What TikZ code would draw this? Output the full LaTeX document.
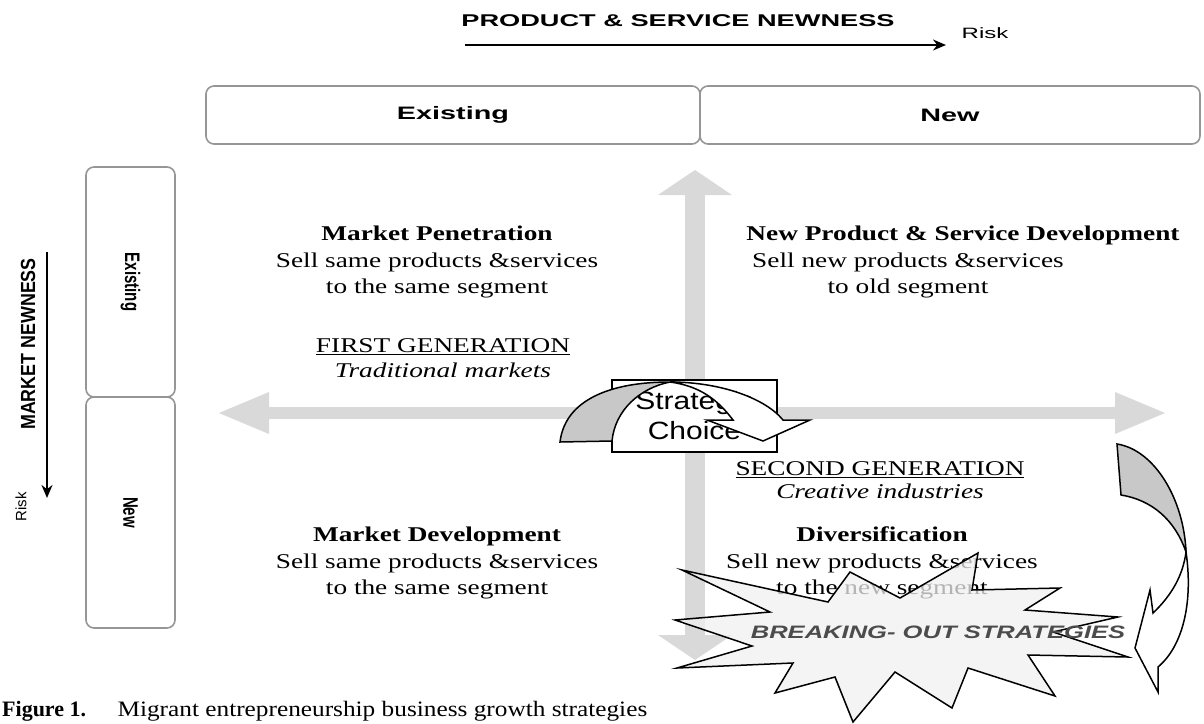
\documentclass[tikz,border=0pt]{standalone}
\usepackage{fontspec}
\setmainfont{Liberation Serif}
\setsansfont{Liberation Sans}
\usetikzlibrary{arrows.meta}

\definecolor{crossgray}{RGB}{217,217,217}
\definecolor{boxgray}{RGB}{150,150,150}
\definecolor{ribbongray}{RGB}{200,200,200}
\definecolor{stargray}{RGB}{240,240,240}

\newcommand{\widen}[2]{\scalebox{#1}[1]{#2}}
\newcommand{\quadlines}[1]{\scalebox{1.3}[1]{\begin{tabular}{@{}c@{}}#1\end{tabular}}}

\tikzset{
  labelbox/.style={draw=boxgray, line width=1.6pt, rounded corners=8pt, fill=white, inner sep=0pt,
    font=\sffamily\bfseries\fontsize{18}{20}\selectfont},
  sidefont/.style={font=\sffamily\bfseries\fontsize{15}{17}\selectfont},
  axisfont/.style={font=\sffamily\bfseries\fontsize{17}{20}\selectfont},
  riskfont/.style={font=\sffamily\fontsize{15}{17}\selectfont},
  quadtext/.style={inner sep=0pt, font=\fontsize{21}{26.5}\selectfont},
  riskarrow/.style={line width=2.5pt, -{Stealth[length=13pt,width=11pt]}},
  crossarrow/.style={draw=crossgray},
  ribbonback/.style={fill=ribbongray, draw=black, line width=1.5pt},
  ribbonfront/.style={fill=white, draw=black, line width=1.5pt},
  starburst/.style={fill=stargray, fill opacity=0.75, draw=black, line width=1.5pt}
}

\begin{document}
\begin{tikzpicture}[x=1pt,y=-1pt]
\useasboundingbox (0,0) rectangle (1204,723);

% grey cross
\coordinate (crossW) at (219,413);
\coordinate (crossE) at (1165,413);
\coordinate (crossN) at (695,170);
\coordinate (crossS) at (695,660);
\draw[crossarrow, line width=12pt, {Triangle[length=50pt,width=42pt,line width=0pt]}-{Triangle[length=50pt,width=42pt,line width=0pt]}] (crossW) -- (crossE);
\draw[crossarrow, line width=20pt, {Triangle[length=25pt,width=74pt,line width=0pt]}-{Triangle[length=25pt,width=74pt,line width=0pt]}] (crossN) -- (crossS);

% product axis
\node[axisfont] (prodtitle) at (678,21) {\widen{1.6}{PRODUCT \& SERVICE NEWNESS}};
\coordinate (prodstart) at (465,45);
\coordinate (prodend) at (946,45);
\draw[riskarrow] (prodstart) -- (prodend);
\node[riskfont] (prodrisk) at (985,33) {\widen{1.6}{Risk}};
\node[labelbox, minimum width=494pt, minimum height=58pt] (pexist) at (453,115) {\widen{1.6}{Existing}};
\node[labelbox, minimum width=500pt, minimum height=58pt] (pnew) at (950,115) {\widen{1.6}{New}};

% market axis
\node[axisfont] (markettitle) at (28,344) {\rotatebox{90}{\scalebox{1.05}[1.2]{MARKET NEWNESS}}};
\coordinate (marketstart) at (47,252);
\coordinate (marketend) at (47,498);
\draw[riskarrow] (marketstart) -- (marketend);
\node[riskfont] (marketrisk) at (21,507) {\rotatebox{90}{Risk}};
\node[labelbox, sidefont, minimum width=89pt, minimum height=230pt] (mexist) at (130.5,282) {\rotatebox{-90}{\scalebox{1}[1.4]{Existing}}};
\node[labelbox, sidefont, minimum width=89pt, minimum height=231pt] (mnew) at (130.5,512.5) {\rotatebox{-90}{\scalebox{1}[1.4]{New}}};

% quadrants
\node[quadtext] (mpen) at (437,262) {\quadlines{\textbf{Market Penetration}\\Sell same products \&services\\to the same segment}};
\node[quadtext] (npdhead) at (963,235) {\quadlines{\textbf{New Product \& Service Development}}};
\node[quadtext] (npdtext) at (908,275) {\quadlines{Sell new products \&services\\to old segment}};
\node[quadtext] (firstgen) at (443,347) {\quadlines{\underline{FIRST GENERATION}}};
\node[quadtext] (tradmk) at (443,372) {\quadlines{\textit{Traditional markets}}};
\node[quadtext] (secgen) at (880,470) {\quadlines{\underline{SECOND GENERATION}}};
\node[quadtext] (creat) at (880,493) {\quadlines{\textit{Creative industries}}};
\node[quadtext] (mdev) at (437,563) {\quadlines{\textbf{Market Development}\\Sell same products \&services\\to the same segment}};
\node[quadtext] (divers) at (882,563) {\quadlines{\textbf{Diversification}\\Sell new products \&services\\to the new segment}};

% strategic choice
\node[draw, fill=white, line width=1.5pt, minimum width=165pt, minimum height=72pt, align=center,
  font=\sffamily\fontsize{25}{30}\selectfont] (choice) at (694.5,416) {\widen{1.2}{Strategic}\\\widen{1.2}{Choice}};
\filldraw[ribbonback] (560,442) .. controls (565,400) and (610,382) .. (670,382) .. controls (640,388) and (615,410) .. (612,441) -- cycle;
\filldraw[ribbonfront] (670,382) .. controls (720,382) and (765,398) .. (783,420) -- (810,420) -- (763,441) -- (707,420) -- (733,420) .. controls (718,400) and (700,386) .. (670,382) -- cycle;

% breaking out
\filldraw[starburst] (682,570) -- (828,602) -- (850,572) -- (900,598) -- (978,553) -- (972,590) -- (1060,588) -- (1025,610) -- (1118,617) -- (1053,632) -- (1128,657) -- (1028,655) -- (1055,696) -- (968,668) -- (952,708) -- (895,672) -- (853,722) -- (835,677) -- (775,693) -- (793,663) -- (677,668) -- (752,646) -- (675,620) -- (770,612) -- cycle;
\node[font=\sffamily\bfseries\itshape\fontsize{18}{20}\selectfont, text=black!70] (breakout) at (938,632) {\widen{1.42}{BREAKING- OUT STRATEGIES}};
\filldraw[ribbonback] (1117,444) .. controls (1155,450) and (1184,500) .. (1186,552) .. controls (1175,520) and (1152,500) .. (1121,495) -- cycle;
\filldraw[ribbonfront] (1186,552) .. controls (1193,600) and (1184,645) .. (1158,667) -- (1158,692) -- (1135,648) -- (1150,590) -- (1153,613) .. controls (1172,595) and (1183,575) .. (1186,552) -- cycle;

% caption
\node[anchor=west, inner sep=0pt, font=\fontsize{22}{24}\selectfont] (figlabel) at (2,711) {\textbf{Figure 1.}};
\node[anchor=west, font=\fontsize{22}{24}\selectfont] (figcaption) at (114,711) {\widen{1.15}{Migrant entrepreneurship business growth strategies}};
\end{tikzpicture}
\end{document}
